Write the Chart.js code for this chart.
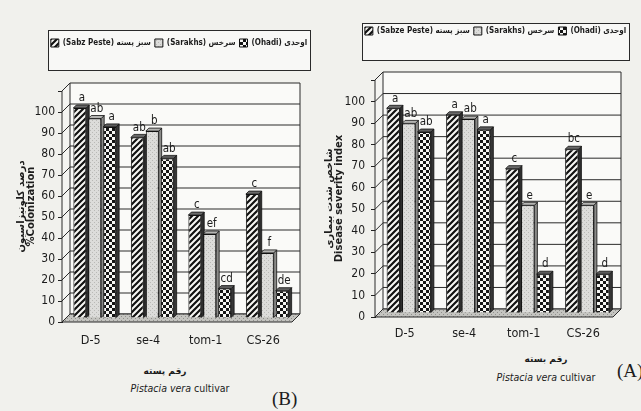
<!DOCTYPE html>
<html>
<head>
<meta charset="utf-8">
<script src="https://cdn.jsdelivr.net/npm/chart.js@4.4.1/dist/chart.umd.min.js"></script>
<style>
  html, body { margin: 0; padding: 0; }
  body {
    width: 641px; height: 411px; position: relative; overflow: hidden;
    background: #f1f1ed;
    font-family: "DejaVu Sans Condensed", "DejaVu Sans", sans-serif;
    color: #1c1c1c;
  }
  .panel { position: absolute; top: 0; }
  #panelB { left: 0; width: 318px; height: 352px; }
  #panelA { left: 320px; width: 321px; height: 347px; }
  .xt { position: absolute; text-align: center; white-space: nowrap; }
  .fa { font-family: "DejaVu Sans", sans-serif; font-size: 9px; font-weight: bold; }
  .en { font-size: 10.5px; }
  .tag { position: absolute; font-family: "Liberation Serif", serif; font-size: 19px; }
</style>
</head>
<body>

<div class="panel" id="panelB"><canvas id="chartB"></canvas></div>
<div class="panel" id="panelA"><canvas id="chartA"></canvas></div>

<div class="xt fa" style="left:115px; width:100px; top:366px;">رقم پسته</div>
<div class="xt en" style="left:120px; width:120px; top:382px;"><i>Pistacia vera</i> cultivar</div>
<div class="tag" style="left:272px; top:388px;">(B)</div>

<div class="xt fa" style="left:496px; width:100px; top:354px;">رقم بسته</div>
<div class="xt en" style="left:486px; width:120px; top:371px;"><i>Pistacia vera</i> cultivar</div>
<div class="tag" style="left:617px; top:360px;">(A)</div>

<script>
/* ================= DATA ================= */
const cultivarsB = ["D-5", "se-4", "tom-1", "CS-26"];
const cultivarsA = ["D-5", "se-4", "tom-1", "CS-26"];

const legendB = ["(Sabz Peste) سبز پسته", "(Sarakhs) سرخس", "(Ohadi) اوحدی"];
const legendA = ["(Sabze Peste) سبز پسته", "(Sarakhs) سرخس", "(Ohadi) اوحدی"];

const yTitleB = ["درصد کلونیزاسیون", "%Colonization"];
const yTitleA = ["شاخص شدت بیماری", "Disease severity index"];

const yMax  = 110;
const yStep = 10;

// (B) % colonization
const colonSabz    = [100, 86, 49, 59];
const colonSarakhs = [95, 89, 40, 31];
const colonOhadi   = [91, 76, 14, 13];
const lettersSabzB    = ["a", "ab", "c", "c"];
const lettersSarakhsB = ["ab", "b", "ef", "f"];
const lettersOhadiB   = ["a", "ab", "cd", "de"];

// (A) disease severity index
const sevSabz    = [95, 92, 67, 76];
const sevSarakhs = [88, 90, 50, 50];
const sevOhadi   = [84, 85, 18, 18];
const lettersSabzA    = ["a", "a", "c", "bc"];
const lettersSarakhsA = ["ab", "ab", "e", "e"];
const lettersOhadiA   = ["ab", "a", "d", "d"];

/* ================= PATTERNS ================= */
const NARROW = "'DejaVu Sans Condensed', 'Liberation Sans Narrow', 'DejaVu Sans', sans-serif";

function makePattern(size, paint) {
    const c = document.createElement("canvas");
    c.width = c.height = size;
    const g = c.getContext("2d");
    paint(g, size);
    return g.createPattern(c, "repeat");
}

const hatch = makePattern(6, (g, s) => {
    g.fillStyle = "#f7f7f4";
    g.fillRect(0, 0, s, s);
    g.strokeStyle = "#111";
    g.lineWidth = 2.2;
    g.beginPath();
    g.moveTo(-1, s + 1); g.lineTo(s + 1, -1);
    g.moveTo(-1, 1);     g.lineTo(1, -1);
    g.moveTo(s - 1, s + 1); g.lineTo(s + 1, s - 1);
    g.stroke();
});

const checker = makePattern(6, (g, s) => {
    g.fillStyle = "#f7f7f4";
    g.fillRect(0, 0, s, s);
    g.fillStyle = "#151515";
    g.fillRect(0, 0, 3, 3);
    g.fillRect(3, 3, 3, 3);
});

const stipple = makePattern(4, (g, s) => {
    g.fillStyle = "#dcdcda";
    g.fillRect(0, 0, s, s);
    g.fillStyle = "#b9b9b6";
    g.fillRect(0, 0, 1, 1);
    g.fillRect(2, 2, 1, 1);
});

const floorFill = makePattern(4, (g, s) => {
    g.fillStyle = "#c4c4c0";
    g.fillRect(0, 0, s, s);
    g.fillStyle = "#8f8f8b";
    g.fillRect(1, 0, 1, 1);
    g.fillRect(3, 2, 1, 1);
});

const fills      = [hatch, stipple, checker];
const sideColors = ["#2e2e2e", "#8a8a88", "#363636"];
const topColors  = ["#6a6a6a", "#b4b4b2", "#5c5c5c"];

/* ================= 3D BOX ================= */
const WALL  = 8;   // back wall depth
const BAR_D = 3;   // bar depth
const SHIFT = 4;   // bars stand in the middle of the floor

function poly(ctx, pts, fill) {
    ctx.beginPath();
    pts.forEach((p, i) => i ? ctx.lineTo(p[0], p[1]) : ctx.moveTo(p[0], p[1]));
    ctx.closePath();
    ctx.fillStyle = fill;
    ctx.fill();
    ctx.stroke();
}

const box3d = {
    id: "box3d",
    beforeDatasetsDraw(chart) {
        const { ctx, chartArea: a } = chart;
        const y = chart.scales.y;
        const y0 = y.getPixelForValue(0);
        const yTop = y.getPixelForValue(y.max);

        ctx.save();
        ctx.strokeStyle = "#2a2a2a";
        ctx.lineWidth = 1;
        // back wall
        ctx.fillStyle = "#fafaf8";
        ctx.fillRect(a.left + WALL, yTop - WALL, a.right - a.left, y0 - yTop);
        // side wall
        poly(ctx, [[a.left, y0], [a.left + WALL, y0 - WALL], [a.left + WALL, yTop - WALL], [a.left, yTop]], "#f4f4f1");
        // grid on the walls
        y.ticks.forEach(t => {
            const py = y.getPixelForValue(t.value);
            ctx.beginPath();
            ctx.moveTo(a.left, py);
            ctx.lineTo(a.left + WALL, py - WALL);
            ctx.lineTo(a.right + WALL, py - WALL);
            ctx.stroke();
        });
        ctx.beginPath();
        ctx.moveTo(a.right + WALL, yTop - WALL);
        ctx.lineTo(a.right + WALL, y0 - WALL);
        ctx.stroke();
        // floor
        poly(ctx, [[a.left, y0], [a.right, y0], [a.right + WALL, y0 - WALL], [a.left + WALL, y0 - WALL]], floorFill);
        ctx.restore();

        // bars: side and top faces first, fronts go over them
        ctx.save();
        ctx.translate(SHIFT, -SHIFT);
        ctx.strokeStyle = "#111";
        ctx.lineWidth = 0.8;
        chart.data.datasets.forEach((ds, i) => {
            chart.getDatasetMeta(i).data.forEach(bar => {
                const l = bar.x - bar.width / 2;
                const r = bar.x + bar.width / 2;
                poly(ctx, [[r, bar.y], [r + BAR_D, bar.y - BAR_D], [r + BAR_D, bar.base - BAR_D], [r, bar.base]], sideColors[i]);
                poly(ctx, [[l, bar.y], [l + BAR_D, bar.y - BAR_D], [r + BAR_D, bar.y - BAR_D], [r, bar.y]], topColors[i]);
            });
        });
    },
    afterDatasetsDraw(chart) {
        const ctx = chart.ctx;
        // significance letters
        ctx.fillStyle = "#1c1c1c";
        ctx.font = "11.5px " + NARROW;
        ctx.textAlign = "center";
        ctx.textBaseline = "bottom";
        chart.data.datasets.forEach((ds, i) => {
            chart.getDatasetMeta(i).data.forEach((bar, j) => {
                ctx.fillText(ds.letters[j], bar.x + 2, bar.y - BAR_D - 1);
            });
        });
        ctx.restore();
    }
};

/* ================= LEGEND BOX ================= */
const legendBox = {
    id: "legendBox",
    beforeInit(chart, args, opts) {
        // fixed legend height -> leaves the gap above the plot
        const legend = chart.legend;
        if (!legend) return;
        const fit = legend.fit;
        legend.fit = function () {
            fit.call(this);
            this.height = opts.height;
        };
    },
    afterLayout(chart, args, opts) {
        chart.legend.left += opts.dx;
        chart.legend.right += opts.dx;
    },
    beforeDraw(chart, args, opts) {
        const boxes = chart.legend.legendHitBoxes;
        if (!boxes || !boxes.length) return;
        const ctx = chart.ctx;
        const l = Math.round(Math.min(...boxes.map(b => b.left)) - opts.padX);
        const r = Math.round(Math.max(...boxes.map(b => b.left + b.width)) + opts.padX);
        ctx.save();
        ctx.fillStyle = "#f8f8f6";
        ctx.fillRect(l, opts.top, r - l, opts.bottom - opts.top);
        ctx.strokeStyle = "#2a2a2a";
        ctx.lineWidth = 1;
        ctx.strokeRect(l + 0.5, opts.top + 0.5, r - l, opts.bottom - opts.top);
        ctx.restore();
    }
};

/* ================= CHART ================= */
function makeChart(el, opt) {
    return new Chart(el, {
        type: "bar",
        data: {
            labels: opt.labels,
            datasets: opt.series.map((data, i) => ({
                label: opt.legend[i],
                data: data,
                letters: opt.letters[i],
                backgroundColor: fills[i],
                borderColor: "#111",
                borderWidth: 1,
                categoryPercentage: 0.78,
                barPercentage: 0.86
            }))
        },
        options: {
            responsive: true,
            maintainAspectRatio: false,
            animation: false,
            layout: { padding: { top: opt.legendTop, right: opt.padRight, bottom: 2, left: 0 } },
            plugins: {
                tooltip: { enabled: false },
                legend: {
                    position: "top",
                    labels: {
                        boxWidth: 8,
                        boxHeight: 8,
                        padding: 4,
                        color: "#1c1c1c",
                        font: { family: NARROW, size: 8, weight: "bold" }
                    }
                },
                legendBox: opt.frame
            },
            scales: {
                x: {
                    afterFit(s) { s.height = 28; },
                    grid: { display: false, drawTicks: false },
                    border: { display: false },
                    ticks: { color: "#1c1c1c", font: { family: NARROW, size: 12.5 }, padding: opt.xPad }
                },
                y: {
                    min: 0,
                    max: yMax,
                    afterFit(s) { s.width = opt.axisWidth; },
                    ticks: {
                        stepSize: yStep,
                        color: "#1c1c1c",
                        padding: opt.tickPad,
                        font: { family: NARROW, size: 12 },
                        callback: v => v > 100 ? "" : v
                    },
                    grid: { drawOnChartArea: false, tickLength: 4, color: "#222" },
                    border: { color: "#222" },
                    title: {
                        display: true,
                        text: opt.yTitle,
                        color: "#1c1c1c",
                        font: { family: "'DejaVu Sans', sans-serif", size: 10, weight: "bold", lineHeight: 1.0 },
                        padding: { top: opt.titlePad, bottom: 0 }
                    }
                }
            }
        },
        plugins: [box3d, legendBox]
    });
}

/* ================= INIT ================= */
makeChart(document.getElementById("chartB"), {
    labels: cultivarsB,
    series: [colonSabz, colonSarakhs, colonOhadi],
    letters: [lettersSabzB, lettersSarakhsB, lettersOhadiB],
    legend: legendB,
    yTitle: yTitleB,
    legendTop: 35,
    padRight: 26,
    axisWidth: 62,
    tickPad: 3,
    titlePad: 16,
    xPad: 11,
    frame: { height: 56, dx: 33, padX: 3, top: 30, bottom: 70 }
});

makeChart(document.getElementById("chartA"), {
    labels: cultivarsA,
    series: [sevSabz, sevSarakhs, sevOhadi],
    letters: [lettersSabzA, lettersSarakhsA, lettersOhadiA],
    legend: legendA,
    yTitle: yTitleA,
    legendTop: 23,
    padRight: 28,
    axisWidth: 55,
    tickPad: 6,
    titlePad: 4,
    xPad: 9,
    frame: { height: 57, dx: 29, padX: 3, top: 23, bottom: 60 }
});
</script>
</body>
</html>
